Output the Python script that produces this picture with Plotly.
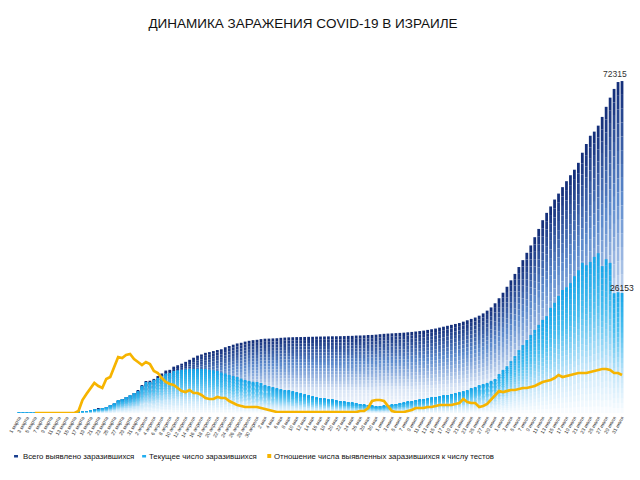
import plotly.graph_objects as go

# ---------------- data ----------------
month_names = ["марта", "апреля", "мая", "июня", "июля"]
month_days = [31, 30, 31, 30, 31]
dates = [f"{d} {m}" for m, n in zip(month_names, month_days) for d in range(1, n + 1)]

total_cases = [
    # March
    10, 10, 12, 15, 17, 21, 25, 39, 50, 75, 97, 126, 143, 193, 213, 250, 304, 427, 529, 677,
    883, 1071, 1238, 1656, 2030, 2693, 3035, 3460, 3865, 4347, 4831,
    # April
    6092, 6857, 7030, 7428, 8018, 8611, 9248, 9404, 10095, 10408, 10743, 11145, 11586, 12046, 12501,
    12758, 13107, 13265, 13491, 13713, 13883, 14326, 14592, 14882, 15148, 15298, 15555, 15728, 15870, 15946,
    # May
    16101, 16185, 16208, 16246, 16289, 16381, 16436, 16477, 16506, 16539, 16548, 16567, 16589, 16607, 16643,
    16659, 16667, 16690, 16712, 16717, 16734, 16757, 16793, 16809, 16872, 16887, 16920, 16987, 17012, 17071, 17169,
    # June
    17250, 17300, 17350, 17400, 17450, 17500, 17580, 17660, 17750, 17850, 17950, 18100, 18250, 18400, 18600,
    18800, 19000, 19200, 19400, 19600, 19900, 20200, 20500, 20800, 21200, 21700, 22300, 23000, 23900, 25000,
    # July
    26200, 27500, 28900, 30300, 31800, 33300, 34900, 36500, 38300, 40100, 42000, 43600, 45000, 46500, 47800,
    49200, 50500, 51800, 53000, 54500, 56700, 58600, 60400, 61300, 62600, 64500, 66700, 68700, 70600, 72100, 72315,
]

active_cases = [
    # March
    10, 10, 12, 15, 17, 21, 25, 38, 48, 72, 93, 121, 138, 187, 205, 240, 290, 410, 510, 655,
    855, 1030, 1195, 1610, 1970, 2620, 2950, 3360, 3740, 4180, 4630,
    # April
    5900, 6600, 6750, 7100, 7600, 8100, 8600, 8650, 9150, 9300, 9400, 9500, 9550, 9600, 9620,
    9600, 9580, 9400, 9300, 9100, 8800, 8600, 8300, 8000, 7800, 7500, 7200, 7000, 6800, 6600,
    # May
    6400, 6100, 5800, 5600, 5400, 5200, 5000, 4800, 4600, 4400, 4200, 4000, 3800, 3600, 3400,
    3250, 3100, 2950, 2850, 2700, 2600, 2450, 2300, 2200, 2050, 1950, 1800, 1700, 1550, 1400, 1450,
    # June
    1550, 1700, 1800, 1950, 2100, 2250, 2400, 2600, 2750, 2900, 3000, 3150, 3300, 3450, 3600,
    3750, 3900, 4100, 4300, 4500, 4700, 5000, 5300, 5650, 6000, 6300, 6550, 7000, 7400, 8500,
    # July
    9400, 10200, 11300, 12400, 13700, 14800, 15900, 17000, 18100, 19200, 20300, 21100, 22900, 24000, 25500,
    26800, 27400, 28300, 29800, 31100, 32700, 32200, 32900, 34000, 34800, 32000, 33500, 32700, 26100, 26300, 26153,
]

positive_ratio = [
    # March
    None, None, None, None, 0, 0, 0, 0, 0, 0, 0, 0, 0, 0, 0,
    0.34, 2.21, 3.23, 4.08, 5.10, 4.59, 4.25, 5.78, 6.12, 7.82, 9.52, 9.35, 9.86, 10.03, 9.18, 8.67,
    # April
    8.16, 8.67, 8.33, 7.14, 6.80, 5.95, 5.27, 4.93, 4.76, 4.25, 3.74, 3.57, 3.91, 3.40, 3.40,
    3.06, 2.55, 2.38, 2.38, 2.72, 2.55, 2.55, 2.04, 1.70, 1.36, 1.19, 1.02, 1.02, 1.02, 1.02,
    # May
    0.85, 0.68, 0.51, 0.34, 0.17, 0.17, 0.17, 0.17, 0.17, 0.1, 0.1, 0.1, 0.1, 0.1, 0.1,
    0.1, 0.1, 0.1, 0.1, 0.1, 0.1, 0.1, 0.1, 0.1, 0.17, 0.34, 0.34, 0.85, 2.04, 2.21, 2.21,
    # June
    2.04, 1.19, 0.34, 0.17, 0.17, 0.17, 0.34, 0.51, 0.85, 0.85, 0.85, 1.02, 1.02, 1.19, 1.36,
    1.36, 1.36, 1.36, 1.53, 1.70, 2.38, 1.87, 1.70, 1.70, 1.02, 1.19, 1.53, 2.21, 2.89, 3.74,
    # July
    3.57, 3.74, 3.91, 3.91, 4.08, 4.25, 4.25, 4.42, 4.59, 4.93, 5.27, 5.44, 5.61, 5.95, 6.46,
    6.12, 6.29, 6.46, 6.63, 6.80, 6.80, 6.80, 6.97, 7.14, 7.31, 7.48, 7.48, 7.31, 6.80, 6.80, 6.46,
]

tick_labels = dates[::2]

series_names = [
    "Всего выявлено заразившихся",
    "Текущее число заразившихся",
    "Отношение числа выявленных заразившихся к числу тестов",
]
title_text = "ДИНАМИКА ЗАРАЖЕНИЯ COVID-19 В ИЗРАИЛЕ"

# ---------------- styling helpers ----------------
PL, PR, PT, PB = 8, 624, 60, 413
W, H = 640, 480
FONT = "Liberation Sans, Arial, Helvetica, sans-serif"

total_stops = [(0.0, (252, 253, 255)), (0.3, (214, 227, 245)), (0.65, (92, 138, 205)), (1.0, (16, 42, 118))]
active_stops = [(0.0, (252, 253, 255)), (0.3, (200, 232, 250)), (0.7, (72, 190, 240)), (1.0, (20, 165, 232))]


def grad(stops, t):
    for (t0, c0), (t1, c1) in zip(stops[:-1], stops[1:]):
        if t0 <= t <= t1:
            f = (t - t0) / (t1 - t0)
            c = [round(a + (b - a) * f) for a, b in zip(c0, c1)]
            return f"rgb({c[0]},{c[1]},{c[2]})"
    c = stops[-1][1]
    return f"rgb({c[0]},{c[1]},{c[2]})"


def px_x(px):
    return (px - PL) / (PR - PL)


def px_y(py):
    return (PB - py) / (PB - PT)


K = 24
fig = go.Figure()
for series, stops in [(total_cases, total_stops), (active_cases, active_stops)]:
    seg = [v / K for v in series]
    for k in range(K):
        t = (k + 0.5) / K
        fig.add_trace(go.Bar(
            x=dates, y=seg, base=[v * k / K for v in series],
            marker=dict(color=grad(stops, t), line=dict(width=0)),
            showlegend=False, hoverinfo="skip",
        ))

fig.add_trace(go.Scatter(
    x=dates, y=positive_ratio, yaxis="y2", mode="lines",
    line=dict(color="#f6b400", width=2.7), showlegend=False, hoverinfo="skip",
))

# value labels
fig.add_annotation(x=dates[-1], y=total_cases[-1], text=str(total_cases[-1]), showarrow=False,
                   yanchor="bottom", xshift=-7, yshift=0, font=dict(family=FONT, size=8.5, color="#333"))
fig.add_annotation(x=dates[-1], y=active_cases[-1], text=str(active_cases[-1]), showarrow=False,
                   yanchor="bottom", xshift=0, yshift=-2, font=dict(family=FONT, size=8.5, color="#222"))

# custom legend
legend_y = 456
items = [
    (5, 9, 455, 457.5, "#1a3f8f", 12, series_names[0]),
    (135, 139, 455, 457.5, "#22aef0", 140, series_names[1]),
    (262, 266, 454, 458, "#f6b400", 267, series_names[2]),
]
for x0, x1, y0, y1, col, tx, txt in items:
    fig.add_shape(type="rect", xref="paper", yref="paper",
                  x0=px_x(x0), x1=px_x(x1), y0=px_y(y1), y1=px_y(y0),
                  fillcolor=col, line=dict(width=0))
    fig.add_annotation(xref="paper", yref="paper", x=px_x(tx), y=px_y(legend_y), text=txt,
                       showarrow=False, xanchor="left", yanchor="middle",
                       font=dict(family=FONT, size=7.8, color="#111"))

fig.update_layout(
    width=W, height=H, autosize=False,
    margin=dict(l=PL, r=W - PR, t=PT, b=H - PB, pad=0),
    paper_bgcolor="white", plot_bgcolor="white",
    barmode="overlay", bargap=0.3,
    title=dict(text=title_text, x=303 / W, xref="container", xanchor="center",
               y=1 - 23 / H, yref="container", yanchor="middle",
               font=dict(family=FONT, size=13.5, color="#111")),
    xaxis=dict(type="category", tickmode="array", tickvals=tick_labels, ticktext=tick_labels,
               tickangle=-60, tickfont=dict(family=FONT, size=5, color="#333"),
               showgrid=False, showline=False, zeroline=False, ticks="",
               range=[-0.5, len(dates) - 0.5]),
    yaxis=dict(range=[0, 76900], visible=False, showgrid=False, zeroline=False),
    yaxis2=dict(range=[0, 60], overlaying="y", visible=False, showgrid=False, zeroline=False),
    showlegend=False,
)

fig.write_html("out.html")
